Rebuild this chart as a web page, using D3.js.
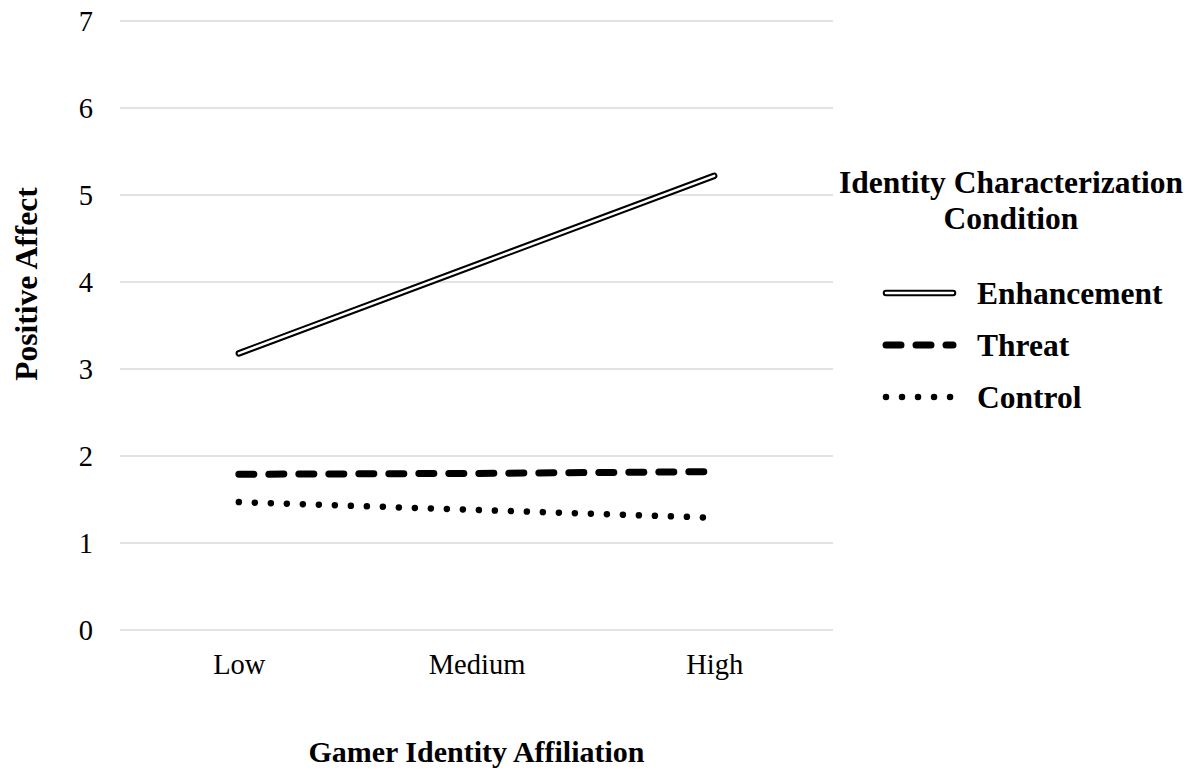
<!DOCTYPE html>
<html><head><meta charset="utf-8">
<script src="https://cdn.jsdelivr.net/npm/d3@7"></script>
<style>body{margin:0;background:#fff}svg{display:block}text{font-family:"Liberation Serif","Times New Roman",serif;fill:#000}</style>
</head><body>
<script>
const categories = ["Low", "Medium", "High"];
const seriesNames = ["Enhancement", "Threat", "Control"];
const enhancement = [3.18, 4.20, 5.22];
const threat = [1.79, 1.80, 1.82];
const control = [1.47, 1.38, 1.29];
const yTicks = [0, 1, 2, 3, 4, 5, 6, 7];
const legendTitle = ["Identity Characterization", "Condition"];
const xTitle = "Gamer Identity Affiliation";
const yTitle = "Positive Affect";

const W = 1203, H = 776;
const REG = 28.5, BOLD = 31.5;
const svg = d3.select("body").append("svg").attr("width", W).attr("height", H);
const plot = {left: 120, right: 833, top: 21, bottom: 630};
const x = d3.scalePoint().domain(categories).range([plot.left, plot.right]).padding(0.5);
const y = d3.scaleLinear().domain([0, 7]).range([plot.bottom, plot.top]);

// gridlines
svg.append("g").selectAll("line").data(yTicks).join("line")
  .attr("x1", plot.left).attr("x2", plot.right)
  .attr("y1", d => y(d)).attr("y2", d => y(d))
  .attr("stroke", "#d9d9d9").attr("stroke-width", 1.5);

// y axis labels
const yAxis = d3.axisLeft(y).tickValues(yTicks).tickSize(0).tickPadding(0).tickFormat(d3.format("d"));
const yg = svg.append("g").attr("transform", `translate(93,0)`).call(yAxis);
yg.select(".domain").remove();
yg.selectAll("text").attr("font-size", REG).attr("font-family", "Liberation Serif").attr("dy", "0.34em");

// x axis labels
const xAxis = d3.axisBottom(x).tickSize(0).tickPadding(0);
const xg = svg.append("g").attr("transform", `translate(0,664)`).call(xAxis);
xg.select(".domain").remove();
xg.selectAll("text").attr("font-size", REG).attr("font-family", "Liberation Serif").attr("dy", "0.34em");

// titles
svg.append("text").attr("x", x("Medium")).attr("y", 752).attr("dy", "0.34em")
  .attr("text-anchor", "middle").attr("font-size", 30).attr("font-weight", "bold").text(xTitle);
svg.append("text").attr("transform", `translate(26,${y(4) + 2}) rotate(-90)`).attr("dy", "0.34em")
  .attr("text-anchor", "middle").attr("font-size", BOLD).attr("font-weight", "bold").text(yTitle);

const line = d3.line().x((d, i) => x(categories[i])).y(d => y(d));
const styles = {
  Enhancement: [{stroke: "#000", width: 6.5, dash: null}, {stroke: "#fff", width: 2.5, dash: null}],
  Threat: [{stroke: "#000", width: 7, dash: "15 15"}],
  Control: [{stroke: "#000", width: 6.5, dash: "0.01 16"}]
};
const data = {Enhancement: enhancement, Threat: threat, Control: control};
seriesNames.forEach(name => {
  styles[name].forEach(s => {
    svg.append("path").datum(data[name]).attr("d", line)
      .attr("fill", "none").attr("stroke", s.stroke).attr("stroke-width", s.width)
      .attr("stroke-linecap", "round").attr("stroke-dasharray", s.dash);
  });
});

// legend
const lt = svg.append("text").attr("text-anchor", "middle")
  .attr("font-size", BOLD).attr("font-weight", "bold");
legendTitle.forEach((t, i) => lt.append("tspan").attr("x", 1011).attr("y", 182 + i * 36).attr("dy", "0.34em").text(t));
const legendY = [293, 345, 397];
seriesNames.forEach((name, i) => {
  const ly = legendY[i];
  styles[name].forEach(s => {
    svg.append("line").attr("x1", 886).attr("x2", 953).attr("y1", ly).attr("y2", ly)
      .attr("stroke", s.stroke).attr("stroke-width", s.width)
      .attr("stroke-linecap", "round").attr("stroke-dasharray", s.dash);
  });
  svg.append("text").attr("x", 977).attr("y", ly).attr("dy", "0.34em")
    .attr("font-size", BOLD).attr("font-weight", "bold").text(name);
});
</script>
</body></html>
